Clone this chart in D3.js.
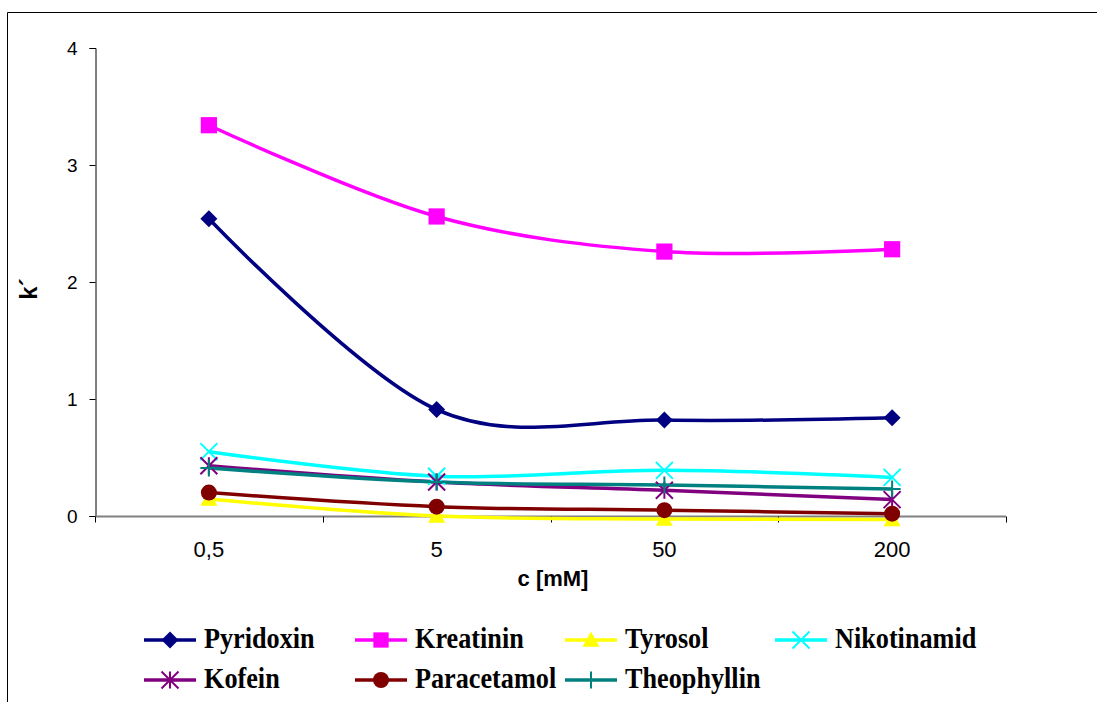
<!DOCTYPE html>
<html>
<head>
<meta charset="utf-8">
<script src="https://cdn.jsdelivr.net/npm/d3@7"></script>
<style>
  html, body { margin: 0; padding: 0; background: #fff; }
  svg { display: block; }
</style>
</head>
<body>
<svg id="chart" width="1097" height="702"></svg>
<script>
// Concentration categories (x axis) and value ticks (y axis)
const categories = ["0,5", "5", "50", "200"];
const yTicks = [0, 1, 2, 3, 4];

// Capacity factor k´ for each compound at each concentration
const pyridoxin   = [2.54, 0.91, 0.82, 0.84];
const kreatinin   = [3.34, 2.56, 2.26, 2.28];
const tyrosol     = [0.145, 0.0, -0.025, -0.03];
const nikotinamid = [0.55, 0.34, 0.39, 0.33];
const kofein      = [0.43, 0.29, 0.22, 0.14];
const paracetamol = [0.20, 0.08, 0.05, 0.02];
const theophyllin = [0.41, 0.29, 0.265, 0.23];

const seriesNames  = ["Pyridoxin", "Kreatinin", "Tyrosol", "Nikotinamid", "Kofein", "Paracetamol", "Theophyllin"];
const seriesValues = [pyridoxin, kreatinin, tyrosol, nikotinamid, kofein, paracetamol, theophyllin];
const seriesColors = ["#000080", "#ff00ff", "#ffff00", "#00ffff", "#800080", "#800000", "#008080"];
const seriesMarkers = ["diamond", "square", "triangle", "x", "star", "circle", "plus"];

const series = seriesNames.map((name, i) => ({
  name, values: seriesValues[i], color: seriesColors[i], marker: seriesMarkers[i]
}));

const svg = d3.select("#chart");

// Outer frame (open on the right and bottom)
svg.append("path")
  .attr("d", "M1097,12.5 H7.5 V702")
  .attr("fill", "none").attr("stroke", "#000").attr("stroke-width", 1);

const plot = { left: 95, right: 1006, top: 48, bottom: 516 };

const x = d3.scaleBand().domain(categories).range([plot.left, plot.right]);
const y = d3.scaleLinear().domain([0, 4]).range([plot.bottom, plot.top]);
const cx = c => x(c) + x.bandwidth() / 2;

// Y axis
const yAxis = d3.axisLeft(y).tickValues(yTicks).tickSize(6).tickPadding(12).tickFormat(d3.format("d"));
const gy = svg.append("g").attr("transform", `translate(${plot.left + 0.5},0)`).call(yAxis);
gy.select(".domain").attr("stroke", "#000");
gy.selectAll(".tick line").attr("stroke", "#000");
gy.selectAll(".tick text")
  .attr("font-family", "'Liberation Sans', Arial, sans-serif")
  .attr("font-size", 19).attr("fill", "#000");

// X axis: ticks at category boundaries, labels centred in each band
const gx = svg.append("g").attr("transform", `translate(0,${plot.bottom + 0.5})`);
gx.append("line")
  .attr("x1", plot.left).attr("x2", plot.right)
  .attr("stroke", "#808080").attr("stroke-width", 2);
const boundaries = categories.map(c => x(c)).concat([plot.right]);
gx.selectAll("line.tk").data(boundaries).join("line").attr("class", "tk")
  .attr("x1", d => Math.round(d) + 0.5).attr("x2", d => Math.round(d) + 0.5)
  .attr("y1", 0).attr("y2", 6).attr("stroke", "#000");
gx.selectAll("text").data(categories).join("text")
  .attr("x", d => cx(d)).attr("y", 40)
  .attr("text-anchor", "middle")
  .attr("font-family", "'Liberation Sans', Arial, sans-serif")
  .attr("font-size", 22).attr("fill", "#000")
  .text(d => d);

// Axis titles
svg.append("text")
  .attr("x", 553).attr("y", 586)
  .attr("text-anchor", "middle")
  .attr("font-family", "'Liberation Sans', Arial, sans-serif")
  .attr("font-weight", "bold").attr("font-size", 22)
  .text("c [mM]");
svg.append("text")
  .attr("transform", "translate(37,289) rotate(-90)")
  .attr("text-anchor", "middle")
  .attr("font-family", "'Liberation Sans', Arial, sans-serif")
  .attr("font-weight", "bold").attr("font-size", 24)
  .text("k´");

// Marker drawing
function drawMarker(g, type, color, size) {
  const s = size;
  switch (type) {
    case "diamond":
      g.append("path").attr("d", `M0,${-s/2} L${s/2},0 L0,${s/2} L${-s/2},0 Z`).attr("fill", color);
      break;
    case "square":
      g.append("rect").attr("x", -s*0.45).attr("y", -s*0.45).attr("width", s*0.9).attr("height", s*0.9).attr("fill", color);
      break;
    case "triangle":
      g.append("path").attr("d", `M0,${-s/2} L${s/2},${s*0.4} L${-s/2},${s*0.4} Z`).attr("fill", color);
      break;
    case "circle":
      g.append("circle").attr("r", s*0.47).attr("fill", color);
      break;
    case "x":
      g.append("path").attr("d", `M${-s/2},${-s/2} L${s/2},${s/2} M${s/2},${-s/2} L${-s/2},${s/2}`)
        .attr("stroke", color).attr("stroke-width", 2);
      break;
    case "star":
      g.append("path").attr("d", `M${-s/2},${-s/2} L${s/2},${s/2} M${s/2},${-s/2} L${-s/2},${s/2} M0,${-s/2} L0,${s/2}`)
        .attr("stroke", color).attr("stroke-width", 2);
      break;
    case "plus":
      g.append("path").attr("d", `M0,${-s/2} L0,${s/2} M${-s/2},0 L${s/2},0`)
        .attr("stroke", color).attr("stroke-width", 2);
      break;
  }
}

// Smoothed series lines
const line = d3.line()
  .x((d, i) => cx(categories[i]))
  .y(d => y(d))
  .curve(d3.curveCardinal.tension(0));

const gLines = svg.append("g");
series.forEach(s => {
  gLines.append("path")
    .datum(s.values)
    .attr("d", line)
    .attr("fill", "none")
    .attr("stroke", s.color)
    .attr("stroke-width", 3.5)
    .attr("stroke-linejoin", "round");
});
series.forEach(s => {
  s.values.forEach((v, i) => {
    const g = gLines.append("g").attr("transform", `translate(${cx(categories[i])},${y(v)})`);
    drawMarker(g, s.marker, s.color, s.marker === "square" ? 18 : 17);
  });
});

// Legend
const legendPos = [
  [144, 640], [355, 640], [565, 640], [775, 640],
  [144, 680], [355, 680], [565, 680]
];
series.forEach((s, i) => {
  const [lx, ly] = legendPos[i];
  const g = svg.append("g").attr("transform", `translate(${lx},${ly})`);
  g.append("line").attr("x1", 0).attr("x2", 52).attr("y1", 0).attr("y2", 0)
    .attr("stroke", s.color).attr("stroke-width", 3.5);
  const m = g.append("g").attr("transform", "translate(26,0)");
  drawMarker(m, s.marker, s.color, 17);
  g.append("text")
    .attr("transform", "translate(60,8) scale(0.92,1)")
    .attr("font-family", "'Liberation Serif', 'Times New Roman', serif")
    .attr("font-weight", "bold").attr("font-size", 28.5)
    .text(s.name);
});
</script>
</body>
</html>
